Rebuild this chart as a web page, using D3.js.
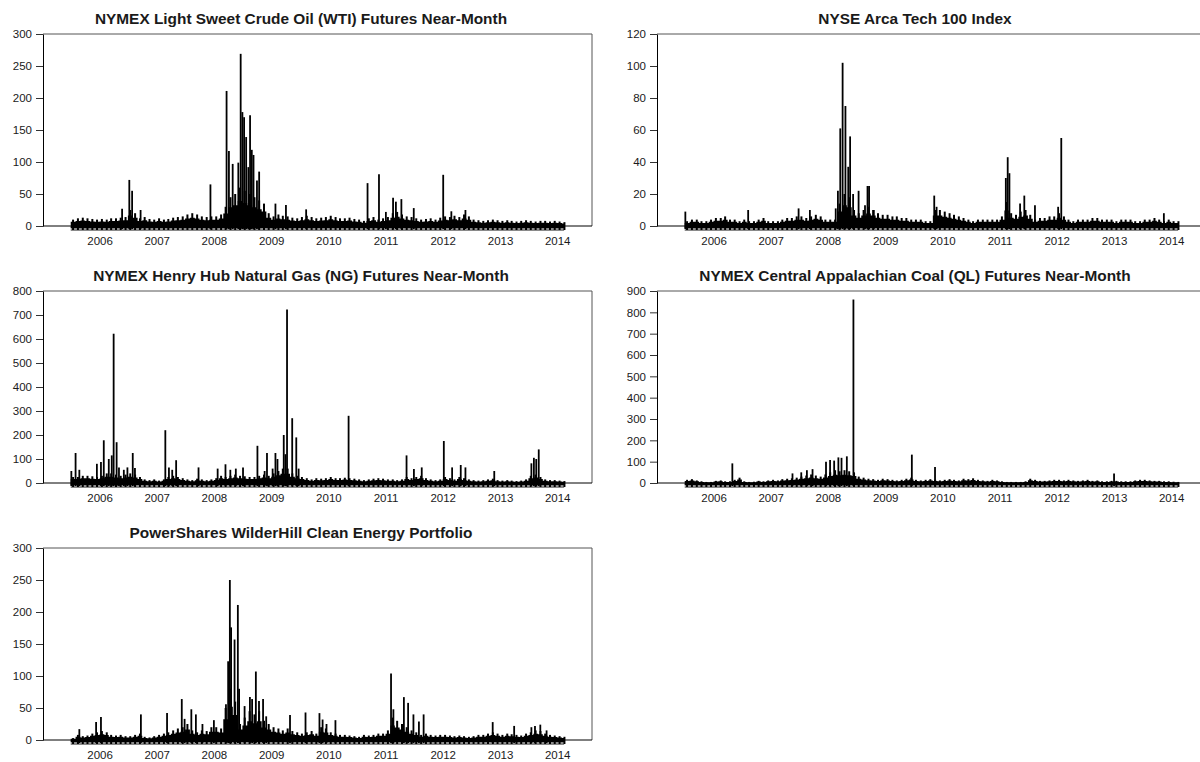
<!DOCTYPE html>
<meta charset="utf-8">
<script src="https://cdn.jsdelivr.net/npm/d3@7"></script>
<style>
body { margin: 0; background: #fff; }
text { font-family: "Liberation Sans", Arial, sans-serif; fill: #1a1a1a; }
.title { font-weight: bold; font-size: 15.4px; }
.axis text { font-size: 11.5px; }
</style>
<body>
<script>

// monthly envelope of the noise band, Jul 2005 .. Feb 2014 (104 months)
var wtiBase = [
  10, 12, 13, 12, 11, 10,
  11, 10, 12, 12, 13, 14, 25, 20, 12, 14, 11, 10,
  12, 10, 11, 13, 14, 15, 18, 20, 18, 15, 14, 15,
  15, 18, 30, 45, 50, 60, 55, 50, 45, 40, 35, 20,
  15, 18, 16, 15, 13, 12, 14, 16, 14, 12, 13, 14,
  16, 14, 12, 12, 13, 11, 10, 8, 12, 14, 10, 12,
  14, 20, 22, 18, 15, 14, 12, 10, 11, 12, 10, 13,
  15, 14, 16, 14, 18, 15, 10, 9, 8, 9, 10, 9,
  8, 9, 8, 7, 8, 9, 8, 7, 8, 8, 7, 8,
  7, 6]
var wtiSpikes = [
  ["2006-05-25", 27], ["2006-07-10", 72], ["2006-07-28", 55], ["2006-09-20", 25],
  ["2007-12-10", 65], ["2008-03-22", 211], ["2008-04-06", 117], ["2008-04-30", 97],
  ["2008-06-05", 99], ["2008-06-20", 269], ["2008-07-01", 178], ["2008-07-12", 170],
  ["2008-07-25", 139], ["2008-08-08", 92], ["2008-08-19", 173], ["2008-08-30", 119],
  ["2008-09-10", 111], ["2008-10-02", 71], ["2008-10-16", 85], ["2009-01-28", 35],
  ["2009-04-05", 33], ["2009-08-12", 26], ["2010-09-08", 67], ["2010-11-20", 81],
  ["2011-01-03", 22], ["2011-02-18", 44], ["2011-03-08", 38], ["2011-04-12", 42],
  ["2011-06-30", 28], ["2012-01-04", 80], ["2012-02-25", 23], ["2012-05-25", 25]]

var techBase = [
  3, 4, 4, 3, 3, 4,
  5, 5, 6, 4, 4, 3, 4, 3, 3, 4, 5, 3,
  3, 3, 4, 5, 5, 6, 6, 5, 6, 7, 6, 4,
  4, 4, 14, 20, 18, 10, 8, 10, 12, 10, 8, 7,
  7, 6, 6, 5, 5, 4, 4, 4, 3, 3, 10, 10,
  9, 8, 7, 6, 5, 4, 3, 4, 4, 4, 4, 4,
  6, 15, 8, 7, 9, 10, 7, 4, 5, 5, 6, 6,
  8, 6, 4, 3, 4, 4, 4, 5, 5, 4, 4, 4,
  3, 4, 4, 4, 3, 3, 4, 4, 5, 4, 3, 4,
  3, 3]
var techSpikes = [
  ["2005-07-05", 9], ["2006-08-10", 10], ["2007-06-28", 11], ["2007-09-08", 10],
  ["2008-02-20", 11], ["2008-03-05", 22], ["2008-03-20", 61], ["2008-04-04", 102],
  ["2008-04-22", 75], ["2008-05-10", 37], ["2008-05-22", 56], ["2008-06-10", 20],
  ["2008-07-15", 22], ["2008-08-25", 13], ["2008-09-10", 25], ["2008-09-20", 25],
  ["2008-10-20", 10], ["2009-11-10", 19], ["2009-11-25", 12], ["2011-02-10", 30],
  ["2011-02-22", 43], ["2011-03-05", 33], ["2011-05-12", 14], ["2011-06-08", 19],
  ["2011-08-15", 13], ["2012-01-10", 12], ["2012-01-30", 55], ["2013-11-15", 8]]

var gasBase = [
  25, 25, 30, 30, 28, 25,
  30, 40, 40, 35, 30, 35, 40, 35, 25, 15, 12, 15,
  10, 15, 25, 30, 25, 20, 15, 12, 18, 15, 12, 15,
  20, 30, 25, 30, 35, 30, 28, 25, 25, 30, 35, 30,
  40, 50, 60, 60, 40, 30, 25, 20, 15, 20, 18, 20,
  25, 20, 20, 22, 20, 18, 15, 12, 15, 18, 20, 18,
  15, 15, 12, 15, 25, 20, 25, 30, 20, 15, 12, 15,
  25, 20, 15, 25, 20, 15, 12, 10, 12, 15, 18, 12,
  10, 12, 10, 8, 10, 15, 30, 35, 25, 15, 12, 12,
  10, 8]
var gasSpikes = [
  ["2005-07-05", 50], ["2005-08-01", 125], ["2005-08-25", 55], ["2005-12-15", 80],
  ["2006-01-10", 88], ["2006-01-28", 178], ["2006-03-01", 100], ["2006-03-20", 115],
  ["2006-04-01", 622], ["2006-04-20", 170], ["2006-05-05", 65], ["2006-06-05", 55],
  ["2006-06-28", 65], ["2006-08-01", 125], ["2006-08-15", 62], ["2007-02-25", 220],
  ["2007-03-20", 65], ["2007-04-10", 55], ["2007-05-05", 95], ["2007-09-25", 65],
  ["2008-01-25", 60], ["2008-03-15", 78], ["2008-04-15", 55], ["2008-05-20", 60],
  ["2008-07-05", 65], ["2008-10-05", 155], ["2008-11-20", 50], ["2008-12-05", 125],
  ["2009-01-10", 60], ["2009-01-28", 125], ["2009-02-10", 100], ["2009-03-22", 200],
  ["2009-04-02", 120], ["2009-04-12", 723], ["2009-05-15", 270], ["2009-06-10", 190],
  ["2009-06-25", 60], ["2010-05-10", 280], ["2011-05-15", 115], ["2011-07-01", 58],
  ["2011-08-20", 65], ["2012-01-08", 175], ["2012-03-01", 65], ["2012-04-25", 75],
  ["2012-05-25", 65], ["2012-11-25", 50], ["2013-07-20", 82], ["2013-08-05", 105],
  ["2013-08-20", 100], ["2013-09-05", 140]]

var coalBase = [
  15, 18, 12, 8, 5, 5,
  10, 12, 8, 8, 15, 25, 8, 5, 6, 10, 8, 12,
  15, 12, 18, 20, 22, 25, 30, 35, 40, 35, 30, 40,
  50, 60, 55, 60, 55, 50, 30, 25, 20, 18, 15, 20,
  18, 15, 12, 15, 20, 25, 15, 12, 15, 18, 15, 12,
  15, 18, 15, 12, 20, 18, 22, 15, 12, 10, 15, 12,
  8, 5, 5, 5, 5, 8, 20, 15, 10, 10, 12, 15,
  15, 12, 15, 12, 10, 12, 15, 10, 12, 8, 8, 10,
  10, 8, 8, 8, 12, 15, 15, 12, 10, 10, 8, 8,
  6, 5]
var coalSpikes = [
  ["2006-05-01", 92], ["2007-05-20", 45], ["2007-07-15", 50], ["2007-08-20", 60],
  ["2007-09-25", 65], ["2007-12-20", 100], ["2008-01-15", 108], ["2008-02-10", 105],
  ["2008-03-08", 120], ["2008-03-28", 118], ["2008-05-01", 125], ["2008-06-12", 860],
  ["2009-06-20", 133], ["2009-11-15", 75], ["2013-01-01", 45]]

var cleanBase = [
  3, 8, 6, 7, 10, 12,
  14, 12, 8, 7, 8, 6, 6, 8, 10, 5, 4, 6,
  8, 10, 12, 15, 18, 20, 25, 15, 12, 15, 14, 20,
  20, 18, 50, 80, 60, 25, 35, 45, 40, 45, 30, 25,
  20, 18, 15, 18, 14, 12, 10, 12, 14, 10, 20, 18,
  12, 10, 8, 8, 7, 6, 5, 8, 7, 8, 10, 10,
  15, 35, 30, 25, 20, 15, 12, 8, 10, 8, 7, 8,
  8, 7, 6, 7, 6, 5, 6, 8, 8, 10, 12, 10,
  8, 10, 9, 8, 7, 10, 12, 15, 14, 10, 8, 7,
  6, 5]
var cleanSpikes = [
  ["2005-08-25", 17], ["2005-12-10", 28], ["2006-01-10", 36], ["2006-09-22", 40],
  ["2007-03-08", 42], ["2007-06-10", 64], ["2007-06-28", 33], ["2007-08-10", 48],
  ["2007-09-08", 40], ["2007-10-20", 25], ["2008-01-01", 31], ["2008-03-18", 56],
  ["2008-04-01", 123], ["2008-04-12", 250], ["2008-04-20", 176], ["2008-05-12", 157],
  ["2008-06-02", 211], ["2008-06-10", 80], ["2008-07-15", 53], ["2008-08-18", 67],
  ["2008-09-01", 64], ["2008-09-25", 107], ["2008-10-15", 61], ["2008-11-10", 64],
  ["2008-11-30", 37], ["2009-05-01", 39], ["2009-08-08", 43], ["2009-11-05", 42],
  ["2009-11-25", 32], ["2009-12-20", 25], ["2010-02-15", 31], ["2011-02-05", 104],
  ["2011-02-20", 48], ["2011-04-28", 67], ["2011-05-25", 58], ["2011-06-28", 40],
  ["2011-08-02", 29], ["2011-09-01", 40], ["2012-11-15", 28], ["2013-04-01", 22],
  ["2013-07-20", 20], ["2013-08-12", 22], ["2013-09-15", 24], ["2013-10-25", 15]]

var titles = [
  "NYMEX Light Sweet Crude Oil (WTI) Futures Near-Month",
  "NYSE Arca Tech 100 Index",
  "NYMEX Henry Hub Natural Gas (NG) Futures Near-Month",
  "NYMEX Central Appalachian Coal (QL) Futures Near-Month",
  "PowerShares WilderHill Clean Energy Portfolio"]
var yMax = [300, 120, 800, 900, 300]
var yStep = [50, 20, 100, 100, 50]
var years = [2006, 2007, 2008, 2009, 2010, 2011, 2012, 2013, 2014]

var parse = d3.timeParse("%Y-%m-%d")
var months = d3.timeMonths(new Date(2005, 6, 1), new Date(2014, 2, 1))
var dataEnd = new Date(2014, 1, 14)

var panels = [
  {base: wtiBase, spikes: wtiSpikes},
  {base: techBase, spikes: techSpikes},
  {base: gasBase, spikes: gasSpikes},
  {base: coalBase, spikes: coalSpikes},
  {base: cleanBase, spikes: cleanSpikes}]

var svg = d3.select("body").append("svg")
    .attr("width", 1200).attr("height", 762)
    .style("display", "block")

var plotLeft = 43, plotRight = 592, plotTop = 34, plotZero = 226

var x = d3.scaleTime()
    .domain([new Date(2005, 0, 5), new Date(2014, 7, 11)])
    .range([plotLeft, plotRight])

panels.forEach(function(p, i) {
  var ox = (i % 2) * 614
  var oy = Math.floor(i / 2) * 257
  var g = svg.append("g").attr("transform", "translate(" + ox + "," + oy + ")")

  var y = d3.scaleLinear().domain([0, yMax[i]]).range([plotZero, plotTop])

  g.append("text").attr("class", "title")
      .attr("x", 301).attr("y", 24)
      .attr("text-anchor", "middle")
      .text(titles[i])

  // box: top and right edges
  g.append("path")
      .attr("d", "M" + plotLeft + "," + plotTop + "H" + plotRight + "V" + plotZero)
      .attr("fill", "none").attr("stroke", "#555").attr("stroke-width", 1)

  var band = p.base.map(function(v, k) { return {date: months[k], value: v} })
  band.push({date: dataEnd, value: p.base[p.base.length - 1]})

  // small negative tail under the zero line
  g.append("rect")
      .attr("x", x(months[0])).attr("width", x(dataEnd) - x(months[0]))
      .attr("y", plotZero).attr("height", 5)
      .attr("fill", "#8a8a8a")

  // dense core of the noise band
  var area = d3.area()
      .curve(d3.curveStepAfter)
      .x(function(d) { return x(d.date) })
      .y0(plotZero + 2)
      .y1(function(d) { return y(d.value * 0.65) })
  g.append("path").datum(band)
      .attr("d", area)
      .attr("fill", "#000")

  // monthly envelope peaks
  g.selectAll(".peak")
    .data(band.slice(0, -1))
    .enter().append("line")
      .attr("class", "peak")
      .attr("x1", function(d) { return x(d3.timeDay.offset(d.date, 15)) })
      .attr("x2", function(d) { return x(d3.timeDay.offset(d.date, 15)) })
      .attr("y1", plotZero + 4)
      .attr("y2", function(d) { return y(d.value) })
      .attr("stroke", "#000")
      .attr("stroke-width", 2)

  g.selectAll(".spike")
    .data(p.spikes)
    .enter().append("line")
      .attr("class", "spike")
      .attr("x1", function(d) { return x(parse(d[0])) })
      .attr("x2", function(d) { return x(parse(d[0])) })
      .attr("y1", plotZero + 3)
      .attr("y2", function(d) { return y(d[1]) })
      .attr("stroke", "#000")
      .attr("stroke-width", 1.8)

  // zero line
  g.append("line")
      .attr("x1", plotLeft).attr("x2", plotRight)
      .attr("y1", plotZero).attr("y2", plotZero)
      .attr("stroke", "#000")

  var yAxis = g.append("g").attr("class", "axis")
      .attr("transform", "translate(" + plotLeft + ",0)")
      .call(d3.axisLeft(y).tickValues(d3.range(0, yMax[i] + 1, yStep[i]))
            .tickSize(7).tickSizeOuter(0).tickPadding(4))
  yAxis.select(".domain").attr("stroke", "#000")
  yAxis.selectAll(".tick line").attr("stroke", "#333")
  yAxis.selectAll("text").attr("fill", "#1a1a1a").attr("font-family", null).attr("font-size", null)

  var xAxis = g.append("g").attr("class", "axis")
      .attr("transform", "translate(0," + plotZero + ")")
      .call(d3.axisBottom(x)
            .tickValues(years.map(function(yr) { return new Date(yr, 0, 1) }))
            .tickFormat(d3.timeFormat("%Y"))
            .tickSize(0).tickPadding(11))
  xAxis.select(".domain").remove()
  xAxis.selectAll("text").attr("fill", "#1a1a1a").attr("font-family", null).attr("font-size", null)
})

</script>
</body>
